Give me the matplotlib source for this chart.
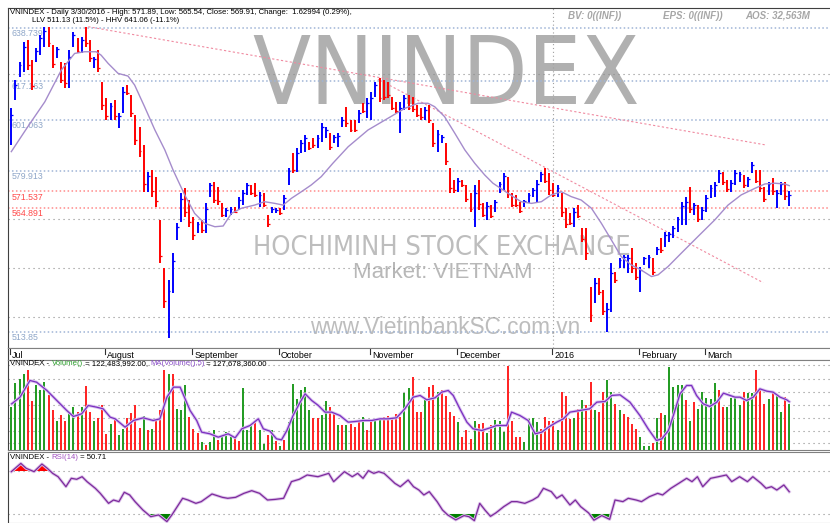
import matplotlib
matplotlib.use("Agg")
import matplotlib.pyplot as plt
import matplotlib.transforms as mtransforms
from matplotlib import font_manager
from matplotlib.font_manager import FontProperties
from matplotlib.offsetbox import TextArea, HPacker, AnchoredOffsetbox
import numpy as np

# ---- price bars (daily, 1 Jul 2015 .. 30 Mar 2016) ----
price_high = [
    605.8, 617.3, 624.9, 633.1, 633.8, 625.6, 630.5, 635.9, 639.3, 639.3,
    631.7, 631.1, 624.9, 624.2, 629.7, 637.2, 634.6, 635.2, 639.3, 633.8,
    626.9, 629.7, 616.7, 609.8, 607.9, 609.1, 603.8, 614.6, 615.3, 611.2,
    603.0, 598.2, 590.6, 579.6, 580.3, 577.6, 559.8, 540.0, 535.1, 546.2,
    558.5, 570.9, 572.9, 568.0, 561.0, 559.0, 559.8, 566.8, 575.0, 575.4,
    573.4, 566.8, 564.7, 565.1, 565.1, 569.2, 572.1, 575.0, 574.2, 575.0,
    571.3, 570.9, 561.8, 565.1, 564.7, 564.7, 570.0, 581.2, 587.3, 589.4,
    592.7, 594.7, 591.9, 593.5, 594.7, 599.7, 598.0, 595.6, 594.7, 595.6,
    602.1, 606.2, 600.9, 600.9, 605.0, 607.9, 609.9, 612.4, 616.5, 618.2,
    617.3, 616.5, 610.3, 608.3, 608.3, 611.2, 611.2, 610.3, 607.1, 605.8,
    606.2, 607.1, 599.7, 596.8, 594.7, 591.4, 581.2, 576.2, 577.1, 576.2,
    574.2, 570.9, 574.2, 576.2, 566.8, 567.2, 565.9, 568.0, 575.4, 579.1,
    577.5, 570.9, 570.0, 567.2, 568.0, 570.9, 572.9, 576.2, 579.5, 581.2,
    579.1, 575.0, 574.2, 570.9, 564.7, 562.6, 564.7, 565.9, 556.5, 556.5,
    532.2, 535.9, 535.9, 531.0, 525.7, 542.1, 538.4, 544.2, 545.4, 545.4,
    548.3, 542.1, 540.5, 544.6, 545.4, 544.2, 548.7, 552.4, 554.9, 554.9,
    557.3, 561.0, 567.2, 569.2, 573.3, 566.8, 565.9, 565.1, 570.1, 574.2,
    575.4, 580.3, 579.5, 576.2, 576.2, 580.3, 579.5, 578.3, 577.5, 583.6,
    580.3, 580.3, 573.3, 575.4, 577.1, 572.1, 575.4, 575.4, 571.89,
]
price_low = [
    590.6, 609.1, 618.7, 620.8, 621.5, 613.2, 624.9, 627.6, 631.1, 631.1,
    622.2, 626.3, 616.0, 613.9, 613.9, 631.1, 628.4, 628.4, 631.1, 624.9,
    622.2, 620.8, 605.0, 601.0, 601.0, 601.0, 597.6, 603.8, 611.2, 602.3,
    590.6, 585.8, 571.4, 571.4, 569.4, 565.2, 541.9, 523.6, 511.2, 529.8,
    551.5, 559.0, 561.0, 556.9, 551.5, 554.4, 554.4, 554.4, 569.2, 566.8,
    566.0, 561.0, 561.0, 561.8, 562.6, 563.9, 566.0, 570.0, 570.0, 569.2,
    565.1, 565.1, 556.9, 562.6, 562.6, 561.8, 563.9, 574.2, 579.1, 579.5,
    587.3, 587.7, 588.6, 589.4, 589.4, 591.9, 593.5, 588.6, 591.4, 589.8,
    598.0, 598.0, 596.0, 596.0, 599.7, 603.8, 601.7, 600.9, 610.3, 608.3,
    609.1, 609.9, 605.0, 603.8, 595.6, 605.0, 605.0, 604.2, 602.1, 600.9,
    600.9, 599.7, 589.8, 587.7, 591.4, 582.3, 570.9, 570.9, 571.3, 573.4,
    567.2, 563.1, 556.9, 563.9, 561.0, 559.8, 560.5, 563.1, 570.9, 572.1,
    568.8, 565.1, 565.1, 562.6, 565.1, 566.8, 569.2, 566.8, 575.4, 575.0,
    570.0, 569.2, 569.2, 561.0, 556.5, 557.7, 556.9, 560.5, 550.7, 543.3,
    517.8, 525.7, 528.9, 520.7, 513.7, 521.9, 533.9, 540.1, 540.1, 538.0,
    538.0, 535.1, 530.2, 541.3, 540.0, 537.2, 545.4, 546.2, 548.7, 550.7,
    552.4, 554.9, 557.7, 557.7, 562.7, 561.8, 558.9, 559.8, 563.1, 568.8,
    569.2, 575.0, 574.2, 571.3, 571.3, 574.2, 575.4, 572.9, 573.4, 579.1,
    575.0, 571.3, 567.2, 570.1, 570.1, 564.7, 570.1, 568.0, 565.54,
]
price_close = [
    603.0, 615.5, 623.5, 631.0, 623.5, 615.0, 629.5, 634.5, 637.5, 632.5,
    624.0, 630.0, 617.5, 616.0, 627.0, 636.0, 629.5, 634.0, 632.5, 626.5,
    626.0, 622.5, 607.0, 602.5, 606.5, 602.5, 602.5, 612.5, 612.0, 604.0,
    592.5, 588.0, 574.5, 578.0, 571.5, 567.5, 545.0, 526.5, 530.5, 543.0,
    557.0, 568.5, 563.0, 559.0, 553.5, 558.0, 555.5, 564.5, 574.0, 568.0,
    567.5, 562.0, 564.0, 564.5, 563.0, 568.0, 571.0, 574.0, 571.0, 570.0,
    570.0, 566.0, 558.0, 564.5, 564.0, 562.5, 569.0, 580.0, 580.5, 587.5,
    591.5, 593.5, 589.5, 590.5, 593.5, 598.0, 597.0, 590.0, 594.0, 594.5,
    601.0, 599.5, 597.0, 597.0, 604.0, 604.5, 608.0, 610.0, 615.5, 610.0,
    610.5, 611.0, 606.0, 604.5, 606.0, 610.0, 606.0, 605.5, 603.0, 602.0,
    605.0, 601.0, 591.5, 595.0, 594.0, 584.0, 573.0, 572.0, 576.0, 574.0,
    568.5, 564.5, 571.0, 566.5, 562.0, 565.5, 561.5, 567.0, 574.5, 578.0,
    570.5, 566.0, 566.0, 563.5, 567.5, 570.0, 572.0, 574.5, 578.5, 576.0,
    572.0, 570.0, 573.0, 563.0, 558.0, 558.5, 563.0, 561.5, 552.0, 546.0,
    520.5, 534.0, 530.0, 522.5, 523.0, 538.0, 535.0, 543.5, 544.5, 544.0,
    540.0, 536.5, 539.0, 544.0, 544.5, 538.5, 548.0, 547.5, 553.5, 554.0,
    556.5, 560.0, 565.5, 567.0, 564.5, 566.0, 560.0, 564.0, 569.0, 573.0,
    574.0, 579.0, 575.5, 572.5, 575.0, 579.0, 578.5, 574.0, 576.5, 582.5,
    576.0, 573.0, 568.5, 574.5, 571.5, 571.0, 574.5, 569.5, 569.91,
]
# u = up bar (blue), d = down bar (red)
price_dir = ("uuuudduuud" "dudduududd" "uddduduudd" "dddudddduu" "uuddduduud"
             "dduuduuudd" "udduuduudu" "uudduuuduu" "uddduduuud" "dddduudddd"
             "udduudddud" "ddudduduuu" "dddduuuuud" "dduddduddd" "dudduuduuu"
             "dduuududuu" "uuuududuuu" "uudduuuduu" "ddduduudu")

# 20-day average of price
ma_idx = [0, 4.0, 8.1, 12.1, 15.3, 17.7, 20.5, 21.7, 23.4, 25.8, 28.2, 29.8, 32.2,
          34.7, 37.1, 39.1, 41.9, 44.3, 46.7, 49.2, 51.2, 53.2, 55.6, 58.8, 61.2,
          63.7, 65.7, 67.7, 70.1, 72.5, 74.9, 77.7, 81.4, 86.2, 91.0, 95.1, 98.3,
          100.7, 102.3, 104.7, 107.2, 109.6, 112.0, 114.4, 116.4, 120.0, 123.2,
          125.7, 128.1, 130.5, 132.9, 135.3, 137.7, 140.2, 142.6, 145.0, 147.4,
          149.8, 152.2, 154.7, 156.3, 158.7, 161.9, 165.9, 170.0, 173.2, 176.4,
          179.7, 182.1, 184.5, 186.9, 188.0]
ma_val = [587.9, 598.2, 608.4, 621.5, 628.3, 629.0, 629.0, 627.6, 624.2, 620.1,
          619.0, 615.3, 606.4, 596.8, 588.6, 580.3, 570.1, 562.5, 558.4, 557.0,
          557.3, 562.5, 564.6, 565.9, 567.3, 566.6, 565.9, 568.7, 571.4, 574.2,
          577.6, 583.1, 589.9, 596.8, 601.6, 605.7, 607.8, 607.8, 606.4, 602.3,
          595.4, 588.6, 583.1, 578.3, 574.9, 570.8, 567.3, 566.6, 567.3, 570.1,
          571.4, 569.4, 568.0, 564.6, 558.4, 551.6, 544.7, 541.3, 539.2, 536.5,
          537.2, 540.6, 546.1, 552.9, 559.8, 565.9, 570.1, 572.8, 574.6, 574.9,
          574.6, 573.9]

# trend lines (start/end bar, start/end price)
trend_x = [[18.6, 182.5], [88.6, 181.7]]
trend_y = [[639.3, 590.6], [617.7, 534.0]]

level_values = [638.739, 617.163, 601.063, 579.913, 571.537, 564.891, 513.85]
level_labels = ["638.739", "617.163", "601.063", "579.913", "571.537", "564.891", "513.85"]
level_kind = ["b", "b", "b", "b", "r", "r", "b"]
grey_levels = [620, 560, 540, 520]

month_labels = ["Jul", "August", "September", "October", "November",
                "December", "2016", "February", "March"]
month_pos = [-0.4, 22.6, 43.6, 64.6, 86.6, 107.6, 130.6, 151.6, 167.6]
year_split = 130.9

# ---- volume (millions) ----
volume = [
    113.3, 176.8, 188.2, 201.5, 212.0, 130.9, 170.6, 157.4, 179.4, 144.2,
    106.2, 78.0, 91.3, 75.4, 97.4, 113.3, 100.1, 113.3, 168.0, 101.8,
    78.0, 84.2, 117.7, 42.8, 69.2, 82.4, 38.4, 56.0, 84.2, 97.4,
    117.7, 57.7, 88.6, 51.6, 56.0, 78.0, 104.5, 212.0, 201.5, 199.7,
    108.9, 106.2, 170.6, 86.8, 56.0, 44.5, 20.7, 13.7, 20.7, 51.6,
    26.9, 38.4, 48.9, 33.9, 33.9, 25.1, 164.4, 51.6, 69.2, 78.0,
    51.6, 16.3, 38.4, 51.6, 25.1, 11.9, 26.9, 73.6, 175.0, 135.3,
    159.1, 166.2, 104.5, 84.2, 84.2, 91.3, 128.3, 113.3, 100.1, 66.6,
    64.8, 64.8, 69.2, 60.4, 78.0, 86.8, 51.6, 82.4, 78.0, 79.8,
    86.8, 88.6, 82.4, 95.7, 86.8, 150.3, 163.5, 192.6, 100.1, 100.1,
    132.7, 166.2, 172.4, 153.0, 157.4, 141.5, 101.8, 88.6, 73.6, 33.9,
    51.6, 29.5, 76.3, 69.2, 71.0, 44.5, 64.8, 79.8, 78.0, 47.2,
    220.9, 78.0, 35.7, 33.9, 20.7, 82.4, 84.2, 73.6, 56.0, 86.8,
    78.0, 78.0, 51.6, 153.0, 141.5, 82.4, 85.1, 108.9, 132.7, 117.7,
    179.4, 104.5, 100.1, 153.0, 185.6, 154.7, 122.1, 106.2, 95.7, 86.8,
    67.5, 56.0, 33.9, 9.3, 9.3, 18.1, 84.2, 97.4, 91.3, 219.0,
    166.2, 172.4, 172.4, 132.7, 75.4, 126.5, 108.9, 153.0, 138.0, 135.3,
    176.8, 157.4, 114.9, 113.3, 137.1, 140.0, 119.5, 153.0, 150.3, 150.3,
    212.0, 159.1, 122.1, 135.3, 154.7, 144.2, 100.1, 139.7, 122.5,
]
# g = up volume, r = down volume
volume_dir = ("ggggrrgggr" "rgrrggrgrr" "grrrgrggrr" "rrgrgrrrgr" "gggrrrgrgg"
              "rgggrrgggr" "ggrgrgrggg" "gggrrggrrg" "rgrrrgrrgg" "rrrrrggrrr"
              "grrgrrrrgr" "rrgrrgrggg" "rrrrggggrr" "rrgrrrgrgr" "rgrrggrgrr"
              "rrgggrgrgg" "gggrgrgggg" "grrggggrgg" "rrrgrggrg")

vma_idx = [0.1, 2.1, 4.5, 6.1, 8.6, 10.6, 13.4, 15.0, 17.0, 18.6, 20.6, 22.2, 23.9,
           25.1, 27.5, 29.5, 31.9, 34.3, 35.9, 37.6, 39.2, 40.8, 42.0, 43.2, 44.8,
           46.0, 48.0, 50.0, 52.4, 54.1, 55.7, 57.7, 59.7, 60.9, 62.5, 64.1, 65.3,
           66.6, 68.1, 69.8, 71.0, 72.6, 74.2, 75.8, 77.4, 79.4, 81.4, 83.1, 85.1,
           87.1, 89.1, 91.1, 93.1, 95.1, 97.1, 98.8, 100.4, 102.4, 104.0, 105.6,
           106.8, 108.4, 110.1, 111.6, 113.7, 115.7, 117.3, 119.7, 120.9, 122.9,
           124.9, 126.6, 128.2, 129.8, 131.8, 133.4, 135.0, 137.4, 139.8, 141.5,
           143.5, 145.1, 147.1, 149.5, 151.9, 153.9, 155.9, 157.2, 158.8, 160.0,
           161.6, 163.2, 164.4, 165.6, 167.2, 168.8, 170.5, 172.1, 173.7, 174.9,
           176.1, 177.7, 179.3, 180.9, 182.6, 184.1, 185.8, 187.4, 188.0]
vma_val = [122.1, 139.7, 183.8, 179.4, 157.4, 135.3, 104.5, 88.6, 95.7, 117.7, 113.3,
           108.9, 86.8, 82.4, 60.4, 78.0, 85.1, 78.0, 82.4, 139.7, 166.2, 166.2,
           135.3, 104.5, 78.0, 47.2, 42.8, 33.9, 42.8, 32.2, 56.0, 64.8, 82.4,
           56.0, 49.8, 29.5, 26.9, 51.6, 91.3, 126.5, 148.6, 130.9, 117.7, 100.1,
           100.1, 91.3, 73.6, 75.4, 78.0, 78.0, 82.4, 82.4, 85.1, 108.9, 139.7,
           144.2, 132.7, 138.0, 153.0, 157.4, 144.2, 108.9, 73.6, 56.0, 51.6, 58.6,
           64.8, 64.8, 100.1, 91.3, 78.0, 42.8, 47.2, 60.4, 73.6, 82.4, 100.1,
           104.5, 108.9, 126.5, 128.3, 144.2, 145.9, 126.5, 91.3, 56.0, 25.1, 29.5,
           51.6, 91.3, 148.6, 170.6, 170.6, 144.2, 122.1, 115.1, 126.5, 150.3,
           144.2, 139.7, 139.7, 130.9, 139.7, 161.7, 155.5, 153.0, 139.7, 132.7,
           127.7]
vol_grid = [224.8, 187.8, 153.4, 119.0, 84.6, 50.3, 18.5]

# ---- RSI(14) ----
rsi_idx = [0, 2.3, 3.6, 5.5, 7.4, 8.7, 10.0, 11.3, 13.2, 14.5, 15.8, 17.1, 18.3,
           20.3, 21.5, 23.5, 24.7, 26.0, 27.3, 28.6, 29.9, 31.8, 33.7, 35.6, 37.6,
           38.8, 41.4, 42.7, 44.6, 45.9, 48.5, 51.0, 52.3, 54.2, 56.2, 58.1, 60.0,
           61.9, 63.8, 65.8, 67.7, 69.6, 71.5, 74.1, 76.7, 77.9, 80.5, 82.4, 83.7,
           85.0, 86.3, 87.6, 88.8, 90.1, 91.4, 92.7, 94.0, 95.9, 97.2, 98.5, 99.7,
           101.0, 102.9, 104.2, 105.5, 107.4, 109.4, 110.6, 111.9, 113.2, 114.5,
           115.8, 117.1, 119.0, 120.9, 122.2, 124.1, 126.0, 127.3, 128.6, 130.5,
           131.8, 133.1, 135.0, 136.3, 137.6, 139.5, 140.8, 142.7, 144.6, 145.9,
           147.8, 149.1, 151.0, 152.3, 154.2, 156.2, 157.4, 159.4, 161.3, 163.2,
           164.5, 165.8, 167.1, 169.0, 170.9, 172.8, 174.1, 176.0, 177.9, 179.2,
           181.2, 182.4, 183.7, 185.0, 186.7, 188.0]
rsi_val = [69.4, 77.1, 72.5, 69.4, 76.5, 72.5, 67.8, 64.7, 55.4, 63.2, 62.3, 64.7,
           60.1, 53.9, 49.2, 39.9, 43.0, 41.5, 50.2, 47.7, 41.5, 33.7, 27.5, 29.1,
           22.9, 29.1, 44.6, 43.0, 39.9, 41.5, 48.6, 45.5, 44.6, 45.5, 49.2, 51.7,
           49.2, 43.0, 43.6, 44.6, 60.1, 62.3, 66.3, 64.7, 67.8, 60.1, 69.4, 64.7,
           67.8, 63.2, 70.3, 67.8, 69.4, 67.8, 63.2, 58.5, 55.4, 61.6, 55.4, 52.3,
           47.7, 50.8, 41.5, 33.7, 29.0, 24.5, 28.5, 27.5, 23.8, 39.9, 33.5, 27.8,
           31.0, 36.8, 41.5, 41.5, 39.9, 43.0, 46.1, 53.9, 50.8, 44.6, 47.7, 38.4,
           43.0, 36.8, 31.0, 24.2, 28.5, 25.0, 43.0, 41.5, 44.6, 43.0, 41.5, 46.1,
           49.2, 47.7, 53.9, 58.5, 63.2, 60.1, 64.7, 55.4, 63.2, 64.7, 66.3, 60.1,
           64.7, 60.1, 64.7, 58.5, 53.9, 55.4, 52.3, 57.0, 50.71]

# ---- layout helpers (pixels of the 830x523 canvas) ----
W, H = 830, 523
XMIN, XMAX = -0.8, 197.85
plt.rcParams['font.family'] = ['Liberation Sans', 'DejaVu Sans']

# watermark font: a narrow sans if one is installed
narrow = None
for f in font_manager.fontManager.ttflist:
    fn = f.fname.replace('-', '').replace('_', '')
    if 'LiberationSansNarrowRegular' in fn or 'LiberationSansNarrow.ttf' in fn:
        narrow = ('narrow', f.fname)
        break
if narrow is None:
    for f in font_manager.fontManager.ttflist:
        if f.fname.endswith('DejaVuSansCondensed.ttf'):
            narrow = ('condensed', f.fname)
            break
if narrow is None:
    narrow = ('roboto', None)
wm_sizes = {'narrow': (76, 21.6), 'condensed': (68, 19.5), 'roboto': (66.5, 18.9)}[narrow[0]]


def wm_font(size):
    if narrow[1] is not None:
        return FontProperties(fname=narrow[1], size=size)
    return FontProperties(family='Roboto', size=size)


fig = plt.figure(figsize=(W / 100, H / 100), dpi=100)


def px_axes(left, top, right, bottom):
    a = fig.add_axes([left / W, 1 - bottom / H, (right - left) / W, (bottom - top) / H])
    a.set_xlim(XMIN, XMAX)
    a.set_xticks([])
    a.set_yticks([])
    a.spines['right'].set_visible(False)
    for s in ['left', 'top', 'bottom']:
        a.spines[s].set_color('#808080')
        a.spines[s].set_linewidth(0.8)
    a.spines['left'].set_color('#404040')
    return a


def color_text(a, parts, x, y, size):
    boxes = [TextArea(t, textprops=dict(color=c, fontsize=size)) for t, c in parts]
    pack = HPacker(children=boxes, align="baseline", pad=0, sep=0)
    box = AnchoredOffsetbox(loc='upper left', child=pack, pad=0, borderpad=0,
                            frameon=False, bbox_to_anchor=(x, y),
                            bbox_transform=a.transAxes)
    a.add_artist(box)


ax = px_axes(8, 8, 830, 348)
axd = px_axes(8, 348, 830, 360)
axv = px_axes(8, 360, 830, 450)
axr = px_axes(8, 452, 830, 523)
ax.spines['top'].set_color('#404040')


def main_xy(px, py):
    return (px - 8) / 822, (348 - py) / 340


# ---- main price panel ----
ax.set_ylim(507.1, 647.0)
blend = mtransforms.blended_transform_factory(ax.transAxes, ax.transData)
for lv in grey_levels:
    ax.axhline(lv, color='#8c8c8c', lw=0.8, ls=(0, (1, 3.5)), zorder=1)
for lv, lab, kind in zip(level_values, level_labels, level_kind):
    col = '#9fb4d6' if kind == 'b' else '#ff8a8a'
    tcol = '#8ea6c8' if kind == 'b' else '#ff4848'
    ax.axhline(lv, color=col, lw=1.1, ls=(0, (1, 1.6)), zorder=1)
    ax.text(0.004, lv - 0.5, lab, transform=blend, color=tcol, fontsize=6.3,
            va='top', ha='left', zorder=2)
ax.axvline(year_split, color='#a0a0a0', lw=0.8, ls=(0, (1, 2.5)), zorder=1)

x0, y0 = main_xy(446, 104)
ax.text(x0, y0, "VNINDEX", transform=ax.transAxes, ha='center', va='baseline',
        fontproperties=wm_font(wm_sizes[0]), color='#b0b0b0', zorder=0)
x0, y0 = main_xy(442, 255)
ax.text(x0, y0, "HOCHIMINH STOCK EXCHANGE", transform=ax.transAxes, ha='center',
        va='baseline', fontproperties=wm_font(wm_sizes[1]), color='#bdbdbd', zorder=0)
x0, y0 = main_xy(443, 278)
ax.text(x0, y0, "Market: VIETNAM", transform=ax.transAxes, ha='center',
        va='baseline', fontsize=16, color='#b8b8b8', zorder=0)
x0, y0 = main_xy(445, 334)
ax.text(x0, y0, "www.VietinbankSC.com.vn", transform=ax.transAxes, ha='center',
        va='baseline', fontsize=16.3, color='#bdbdbd', zorder=0)

for tx, ty in zip(trend_x, trend_y):
    ax.plot(tx, ty, color='#f08aa0', lw=0.8, ls=(0, (2, 2)), zorder=2)

idx = np.arange(len(price_high))
pcol = ['#0000ff' if d == 'u' else '#ff0000' for d in price_dir]
ax.vlines(idx, price_low, price_high, colors=pcol, lw=1.4, zorder=3)
ax.hlines(price_close, idx, idx + 0.45, colors=pcol, lw=0.9, zorder=3)
ax.plot(ma_idx, ma_val, color='#a58ccc', lw=1.0, zorder=4)

x0, y0 = main_xy(10, 9)
ax.text(x0, y0, "VNINDEX - Daily 3/30/2016 - High: 571.89, Low: 565.54, Close: 569.91, "
        "Change:  1.62994 (0.29%),", transform=ax.transAxes, fontsize=5.6,
        va='top', ha='left', zorder=5)
x0, y0 = main_xy(32, 17.5)
ax.text(x0, y0, "LLV 511.13 (11.5%) - HHV 641.06 (-11.1%)", transform=ax.transAxes,
        fontsize=5.6, va='top', ha='left', zorder=5)
for txt, px in [("BV: 0((INF))", 568), ("EPS: 0((INF))", 663), ("AOS: 32,563M", 745)]:
    x0, y0 = main_xy(px, 16)
    ax.text(x0, y0, txt, transform=ax.transAxes, fontsize=7, color='#a6a6a6',
            style='italic', weight='bold', va='center', ha='left', zorder=5)

# ---- date strip ----
axd.set_ylim(0, 1)
axd.spines['bottom'].set_color('#909090')
for lab, pos in zip(month_labels, month_pos):
    axd.plot([pos, pos], [0.5, 0.95], color='#303030', lw=0.8)
    axd.text(pos + 0.6, 0.4, lab, fontsize=6.4, va='center', ha='left')

# ---- volume panel ----
axv.set_ylim(0, 238)
for g in vol_grid:
    axv.axhline(g, color='#8c8c8c', lw=0.8, ls=(0, (1, 3.5)), zorder=1)
vidx = np.arange(len(volume))
vcol = ['#1f9a1f' if d == 'g' else '#ff2020' for d in volume_dir]
axv.vlines(vidx, 0, volume, colors=vcol, lw=1.4, zorder=2)
axv.plot(vma_idx, vma_val, color='#d8c2ee', lw=2.2, zorder=3)
axv.plot(vma_idx, vma_val, color='#7b2fc0', lw=0.9, zorder=4)
color_text(axv, [("VNINDEX - ", 'black'), ("Volume()", '#2ca02c'),
                 (" = 122,483,992.00, ", 'black'), ("MA(Volume(),5)", '#8a4cc8'),
                 (" = 127,678,360.00", 'black')], 0.003, 1.0, 5.6)

# ---- RSI panel ----
axr.set_ylim(21.6, 87.7)
axr.axhline(70, color='#8c8c8c', lw=0.8, ls=(0, (1, 3.5)), zorder=1)
axr.axhline(30, color='#8c8c8c', lw=0.8, ls=(0, (1, 3.5)), zorder=1)
rv = np.array(rsi_val)
axr.fill_between(rsi_idx, rv, 70, where=rv > 70, interpolate=True,
                 color='#ff0000', lw=0, zorder=2)
axr.fill_between(rsi_idx, rv, 30, where=rv < 30, interpolate=True,
                 color='#008000', lw=0, zorder=2)
axr.plot(rsi_idx, rsi_val, color='#dcc3ea', lw=2.2, zorder=3)
axr.plot(rsi_idx, rsi_val, color='#7d2a9c', lw=0.9, zorder=4)
color_text(axr, [("VNINDEX - ", 'black'), ("RSI(14)", '#a050c0'),
                 (" = 50.71", 'black')], 0.002, 0.97, 5.6)

fig.savefig("out.png", dpi=100, facecolor='white')
